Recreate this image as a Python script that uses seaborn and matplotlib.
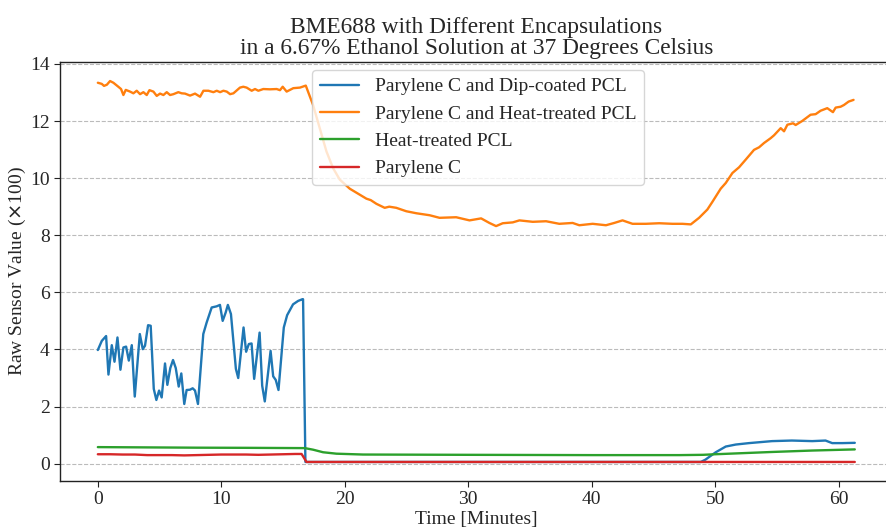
import numpy as np
import pandas as pd
import matplotlib
matplotlib.use("Agg")
import matplotlib.pyplot as plt
import seaborn as sns

# ---- data ----
labels = ["Parylene C and Dip-coated PCL", "Parylene C and Heat-treated PCL",
          "Heat-treated PCL", "Parylene C"]
colors = ["#1f77b4", "#ff7f0e", "#2ca02c", "#d62728"]

dip_t = [0, 0.32, 0.67, 0.86, 1.13, 1.35, 1.59, 1.83, 2.07, 2.29, 2.51, 2.75, 2.99,
         3.40, 3.64, 3.82, 4.07, 4.28, 4.53, 4.74, 4.96, 5.17, 5.44, 5.63, 5.87, 6.09,
         6.31, 6.55, 6.76, 7.00, 7.19, 7.46, 7.68, 7.87, 8.11, 8.54, 8.81, 9.22, 9.62,
         9.89, 10.11, 10.35, 10.53, 10.78, 11.18, 11.37, 11.80, 12.01, 12.23, 12.45,
         12.66, 13.10, 13.31, 13.52, 13.99, 14.20, 14.41, 14.63, 15.06, 15.33, 15.81,
         16.22, 16.57, 16.62, 16.81, 20.0, 30.0, 40.0, 48.83, 49.20, 50.04, 50.85,
         51.66, 52.73, 54.60, 56.20, 57.85, 58.93, 59.47, 60.28, 61.30]
dip_v = [3.98, 4.30, 4.47, 3.12, 4.15, 3.57, 4.42, 3.29, 4.07, 4.10, 3.61, 4.15, 2.35,
         4.54, 4.01, 4.13, 4.85, 4.83, 2.62, 2.23, 2.56, 2.32, 3.51, 2.76, 3.35, 3.63,
         3.35, 2.70, 3.16, 2.09, 2.58, 2.59, 2.64, 2.56, 2.09, 4.54, 4.94, 5.47, 5.51,
         5.56, 5.00, 5.29, 5.56, 5.24, 3.32, 3.00, 4.77, 3.92, 4.19, 4.21, 2.97, 4.59,
         2.73, 2.18, 3.95, 3.06, 2.93, 2.58, 4.77, 5.20, 5.58, 5.70, 5.76, 5.76, 0.06,
         0.06, 0.06, 0.06, 0.06, 0.14, 0.40, 0.60, 0.67, 0.72, 0.79, 0.81, 0.79, 0.81,
         0.72, 0.72, 0.73]

heat_t = [0, 0.32, 0.50, 0.73, 0.99, 1.26, 1.66, 1.88, 2.07, 2.26, 2.61, 2.88, 3.15,
          3.42, 3.69, 3.96, 4.18, 4.50, 4.77, 5.04, 5.31, 5.58, 5.85, 6.12, 6.52, 6.79,
          7.06, 7.47, 7.87, 8.28, 8.55, 8.95, 9.36, 9.63, 9.90, 10.17, 10.44, 10.71,
          10.98, 11.51, 11.78, 12.05, 12.46, 12.73, 13.00, 13.40, 13.94, 14.48, 14.75,
          14.97, 15.29, 15.83, 16.37, 16.84, 17.43, 17.97, 18.51, 19.05, 19.59, 20.40,
          21.21, 21.75, 22.10, 22.56, 23.23, 23.60, 24.17, 24.98, 25.79, 26.87, 27.67,
          29.02, 30.10, 31.04, 31.71, 32.25, 32.79, 33.60, 34.14, 35.22, 36.30, 37.37,
          38.45, 38.99, 40.07, 41.15, 41.82, 42.49, 43.30, 44.38, 45.46, 46.53, 47.34,
          48.02, 48.69, 49.36, 49.77, 50.44, 50.85, 51.39, 51.93, 52.47, 53.14, 53.55,
          53.95, 54.49, 54.76, 55.30, 55.57, 55.84, 56.30, 56.51, 57.04, 57.72, 58.13,
          58.53, 59.07, 59.53, 59.75, 60.15, 60.42, 60.80, 61.20]
heat_v = [13.34, 13.30, 13.23, 13.27, 13.40, 13.34, 13.20, 13.12, 12.91, 13.09, 13.03,
          12.97, 13.06, 12.94, 13.01, 12.91, 13.08, 13.03, 12.88, 12.96, 12.91, 13.01,
          12.91, 12.94, 13.01, 12.97, 12.96, 12.89, 12.96, 12.85, 13.06, 13.06, 13.01,
          13.06, 13.01, 13.06, 13.03, 12.94, 12.97, 13.17, 13.20, 13.17, 13.06, 13.12,
          13.06, 13.12, 13.11, 13.12, 13.08, 13.20, 13.03, 13.15, 13.17, 13.24, 12.56,
          11.75, 10.94, 10.35, 9.95, 9.63, 9.42, 9.28, 9.23, 9.10, 8.96, 9.00, 8.96,
          8.84, 8.77, 8.70, 8.61, 8.63, 8.52, 8.59, 8.43, 8.32, 8.42, 8.45, 8.52, 8.47,
          8.49, 8.40, 8.43, 8.35, 8.40, 8.35, 8.43, 8.52, 8.40, 8.40, 8.42, 8.40, 8.40,
          8.38, 8.61, 8.90, 9.17, 9.63, 9.83, 10.18, 10.38, 10.65, 10.99, 11.08, 11.23,
          11.40, 11.50, 11.75, 11.64, 11.87, 11.92, 11.86, 12.00, 12.22, 12.24, 12.36,
          12.45, 12.31, 12.47, 12.50, 12.56, 12.68, 12.74]

pcl_t = [0, 4.0, 8.0, 12.0, 16.76, 17.43, 18.24, 19.32, 21.47, 30.0, 40.0, 47.1, 49.0,
         50.0, 54.6, 57.85, 61.3]
pcl_v = [0.58, 0.57, 0.56, 0.555, 0.545, 0.49, 0.40, 0.35, 0.32, 0.31, 0.30, 0.30,
         0.31, 0.33, 0.41, 0.46, 0.50]

par_t = [0, 1, 2, 3, 4, 5, 6, 7, 8, 9, 10, 11, 12, 13, 14, 15, 16, 16.5, 16.9, 30, 45,
         61.3]
par_v = [0.33, 0.33, 0.32, 0.32, 0.30, 0.30, 0.30, 0.29, 0.30, 0.31, 0.32, 0.32, 0.32,
         0.31, 0.32, 0.33, 0.34, 0.34, 0.06, 0.06, 0.06, 0.06]

title = "BME688 with Different Encapsulations\nin a 6.67% Ethanol Solution at 37 Degrees Celsius"
xlabel = "Time [Minutes]"
ylabel = r"Raw Sensor Value ($\times$100)"

# ---- build long table ----
frames = []
for lab, t, v in zip(labels, [dip_t, heat_t, pcl_t, par_t], [dip_v, heat_v, pcl_v, par_v]):
    frames.append(pd.DataFrame({"t": t, "v": v, "series": lab}))
df = pd.concat(frames, ignore_index=True)

sns.set_style("ticks")
plt.rcParams["font.family"] = ["Liberation Serif", "DejaVu Serif"]
plt.rcParams["mathtext.fontset"] = "dejavusans"

fig = plt.figure(figsize=(8.86, 5.28), dpi=100)
ax = fig.add_axes([0.0677, 0.0890, 0.9398, 0.7936])

sns.lineplot(data=df, x="t", y="v", hue="series", hue_order=labels,
             palette=colors, sort=False, estimator=None, lw=1.7, ax=ax)

ax.grid(axis="y", linestyle="--", color="#bbbbbb", lw=0.8)
ax.set_axisbelow(True)
for s in ax.spines.values():
    s.set_color("#222222")
    s.set_linewidth(1.0)

ax.set_title(title, fontsize=16.8, pad=6, linespacing=1.0)
ax.set_xlabel(xlabel, fontsize=14, labelpad=2)
ax.set_ylabel(ylabel, fontsize=14, labelpad=1)
ax.tick_params(labelsize=14, length=4, color="#222222")
ax.set_yticks([0, 2, 4, 6, 8, 10, 12, 14])
ax.set_xticks([0, 10, 20, 30, 40, 50, 60])

leg = ax.legend(loc="upper left", bbox_to_anchor=(0.303, 0.981), borderaxespad=0,
                fontsize=14, handlelength=2.0, handletextpad=0.8, labelspacing=0.5,
                frameon=True, fancybox=True, framealpha=0.8, edgecolor="#cccccc")

fig.savefig("out.png", dpi=100)
